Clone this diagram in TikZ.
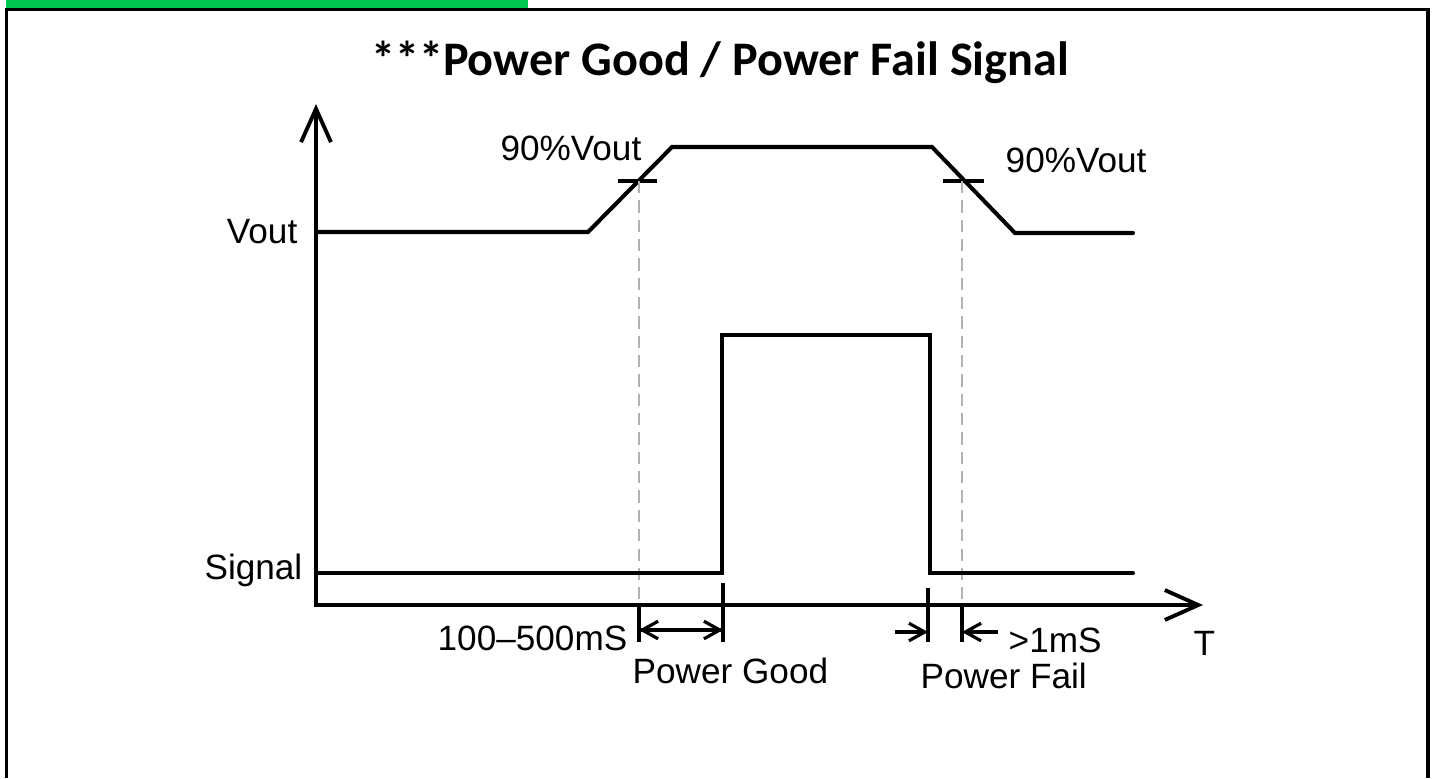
\documentclass[tikz,border=0pt]{standalone}
\usepackage{fontspec}
\setmainfont{Liberation Sans}
\newfontfamily\titlefont{Carlito}
\usetikzlibrary{arrows.meta}
\definecolor{bargreen}{RGB}{0,200,82}
\tikzset{
  wave/.style={line width=1.15pt, line cap=round, line join=miter},
  axisline/.style={line width=1.15pt, {Straight Barb[length=9.5pt, width=8.5pt, line width=1.1pt]}-{Straight Barb[length=9.5pt, width=8.5pt, line width=1.1pt]}},
  guide/.style={gray!60, line width=0.35pt, dash pattern=on 3.5pt off 2pt},
  tickmark/.style={line width=1.15pt},
  dimline/.style={line width=0.9pt},
  dimarrow/.style={line width=0.9pt, -{Straight Barb[length=4.5pt, width=5pt, line width=0.9pt]}},
  lbl/.style={font=\fontsize{10}{11}\selectfont, inner sep=0pt},
  frame/.style={line width=0.9pt}
}

\begin{document}
\begin{tikzpicture}[x=0.01cm, y=-0.01cm]
  \useasboundingbox (0,0) rectangle (1437,778);
  % frame and header bar
  \fill[bargreen] (6,0) rectangle (528,8);
  \draw[frame] (6.5,778) -- (6.5,9.5) -- (1428,9.5) -- (1428,778);
  \node[font=\titlefont\bfseries\fontsize{13.7}{16}\selectfont] (title) at (720,62) {***Power Good / Power Fail Signal};

  % axes
  \coordinate (O) at (316,605);
  \coordinate (ytip) at (316,104);
  \coordinate (xtip) at (1203,605);
  \draw[axisline] (ytip) -- (O) -- (xtip);

  % Vout waveform
  \coordinate (v0) at (316,232);
  \coordinate (v1) at (588,232);
  \coordinate (v2) at (672,147);
  \coordinate (v3) at (932,147);
  \coordinate (v4) at (1015,233);
  \coordinate (v5) at (1133,233);
  \draw[wave] (v0) -- (v1) -- (v2) -- (v3) -- (v4) -- (v5);

  % 90% marks
  \coordinate (ta) at (639,181);
  \coordinate (tb) at (962,181);
  \draw[tickmark] (618,181) -- (657,181);
  \draw[tickmark] (943,181) -- (984,181);
  \coordinate (ga) at (639,605);
  \coordinate (gb) at (962,605);
  \draw[guide] (ta) -- (ga);
  \draw[guide] (tb) -- (gb);

  % signal waveform
  \coordinate (s0) at (316,573);
  \coordinate (s1) at (722,573);
  \coordinate (s2) at (722,335);
  \coordinate (s3) at (930,335);
  \coordinate (s4) at (930,573);
  \coordinate (s5) at (1133,573);
  \draw[wave] (s0) -- (s1) -- (s2) -- (s3) -- (s4) -- (s5);

  % power good dimension
  \coordinate (pga) at (639,630);
  \coordinate (pgb) at (723,630);
  \draw[dimline] (ga) -- (639,642);
  \draw[dimline] (723,583) -- (723,642);
  \draw[dimarrow] (pgb) -- (pga);
  \draw[dimarrow] (pga) -- (pgb);

  % power fail dimension
  \coordinate (pfa) at (928,632);
  \coordinate (pfb) at (962,632);
  \draw[dimline] (928,588) -- (928,642);
  \draw[dimline] (gb) -- (962,642);
  \draw[dimarrow] (895,632) -- (pfa);
  \draw[dimarrow] (998,632) -- (pfb);

  % labels
  \node[lbl, anchor=base east] (lvout) at (298,243) {Vout};
  \node[lbl, anchor=base east] (lsig) at (303,579) {Signal};
  \node[lbl, anchor=base east] (lpa) at (642,160) {90\%Vout};
  \node[lbl, anchor=base west] (lpb) at (1005,172) {90\%Vout};
  \node[lbl, anchor=base east] (lrange) at (628,650) {100--500mS};
  \node[lbl, anchor=base west] (lgood) at (632,683) {Power Good};
  \node[lbl, anchor=base west] (lmin) at (1008,652) {>1mS};
  \node[lbl, anchor=base west] (lfail) at (920,688) {Power Fail};
  \node[lbl, anchor=base west] (lT) at (1193,655) {T};
\end{tikzpicture}
\end{document}
